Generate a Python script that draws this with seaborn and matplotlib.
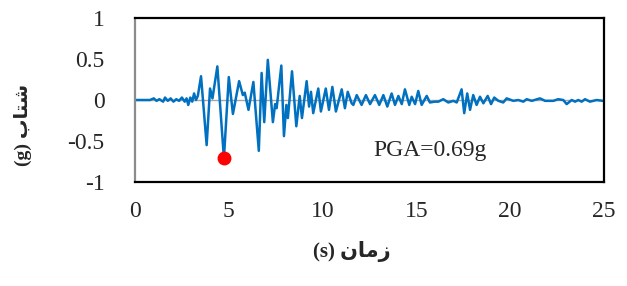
import matplotlib
matplotlib.use('Agg')
import matplotlib.pyplot as plt
import seaborn as sns
import pandas as pd

# peaks / troughs (time in s, acceleration in g)
time_s = [0.0, 0.8, 1.0, 1.15, 1.3, 1.5, 1.6, 1.75, 1.9, 2.05, 2.2, 2.35, 2.5, 2.65,
          2.75, 2.84, 2.95, 3.05, 3.15, 3.25, 3.35, 3.52, 3.82, 4.0, 4.13, 4.39,
          4.74, 5.0, 5.22, 5.55, 5.75, 5.85, 6.05, 6.31, 6.6, 6.75, 6.89, 7.08,
          7.35, 7.47, 7.55, 7.8, 7.94, 8.07, 8.15, 8.37, 8.6, 8.78, 8.9, 9.15,
          9.28, 9.38, 9.5, 9.77, 9.91, 10.17, 10.34, 10.52, 10.71, 11.02, 11.19,
          11.34, 11.55, 11.64, 11.82, 12.08, 12.31, 12.53, 12.79, 13.02, 13.24,
          13.45, 13.68, 13.86, 14.04, 14.22, 14.39, 14.62, 14.75, 14.93, 15.1,
          15.28, 15.55, 15.72, 15.99, 16.17, 16.43, 16.7, 16.97, 17.15, 17.41,
          17.55, 17.71, 17.86, 18.03, 18.21, 18.39, 18.57, 18.8, 18.98, 19.15,
          19.37, 19.63, 19.81, 20.17, 20.43, 20.7, 20.88, 21.15, 21.59, 21.86,
          22.3, 22.56, 22.83, 23.01, 23.28, 23.46, 23.63, 23.81, 23.99, 24.25,
          24.61, 24.93]
accel_g = [0.0, 0.0, 0.02, -0.01, 0.01, -0.02, 0.03, -0.01, 0.02, -0.02, 0.01, -0.01, 0.03, -0.02,
           0.02, -0.06, 0.03, -0.02, 0.08, 0.0, 0.05, 0.29, -0.55, 0.14, 0.02, 0.41,
           -0.71, 0.28, -0.17, 0.23, 0.06, 0.09, -0.12, 0.22, -0.62, 0.33, -0.27, 0.49,
           -0.27, -0.05, -0.1, 0.42, -0.44, -0.06, -0.22, 0.35, -0.32, 0.05, -0.22, 0.23,
           -0.08, 0.1, -0.16, 0.14, -0.14, 0.14, -0.12, 0.16, -0.14, 0.13, -0.1,
           0.1, -0.04, -0.06, 0.06, -0.06, 0.06, -0.05, 0.06, -0.06, 0.06,
           -0.08, 0.08, -0.06, 0.05, -0.05, 0.13, -0.06, 0.04, -0.05, 0.11,
           -0.06, 0.05, -0.03, -0.02, -0.02, 0.01, -0.03, -0.01, -0.03, 0.13,
           -0.16, 0.08, -0.12, 0.06, -0.06, 0.04, -0.04, 0.05, -0.05, 0.03,
           -0.01, -0.03, 0.02, -0.01, 0.0, -0.02, 0.01, -0.01, 0.02, -0.01,
           -0.01, 0.01, 0.0, -0.05, 0.0, -0.02, 0.0, -0.02, 0.01, -0.02,
           0.0, -0.01]
pga_label = 'PGA=0.69g'
x_ticks = [0, 5, 10, 15, 20, 25]
y_ticks = [-1, -0.5, 0, 0.5, 1]

df = pd.DataFrame({'t': time_s, 'a': accel_g})
pga_idx = df['a'].abs().idxmax()

sns.set_style('white')
plt.rcParams['font.family'] = ['Liberation Serif', 'DejaVu Sans']

fig = plt.figure(figsize=(6.27, 2.86), dpi=100)
ax = fig.add_axes([0.2153, 0.3636, 0.748, 0.5734])

ax.axhline(0, color='#a6a6a6', lw=1.0, zorder=1)
sns.lineplot(data=df, x='t', y='a', ax=ax, color='#0070c0', lw=1.8, zorder=2)
ax.plot(df.loc[pga_idx, 't'], df.loc[pga_idx, 'a'], 'o', color='#ff0000',
        ms=9, zorder=3)
ax.text(12.69, -0.61, pga_label, fontsize=17, ha='left', va='center')

ax.set_xlim(0, 25)
ax.set_ylim(-1, 1)
ax.set_xticks(x_ticks)
ax.set_xticklabels([str(v) for v in x_ticks])
ax.set_yticks(y_ticks)
ax.set_yticklabels(['-1', '-0.5', '0', '0.5', '1'])
ax.tick_params(axis='both', length=0, labelsize=17)
ax.tick_params(axis='x', pad=14)
ax.tick_params(axis='y', pad=22)
ax.set_xlabel('')
ax.set_ylabel('')

for side in ['top', 'right', 'bottom']:
    ax.spines[side].set_color('black')
    ax.spines[side].set_linewidth(1.6)
ax.spines['left'].set_color('#8c8c8c')
ax.spines['left'].set_linewidth(1.6)

# arabic text given in presentation forms, visual order
fig.text(352 / 627, 1 - 251 / 286, '(s) \uFEE5\uFE8E\uFEE3\uFEAF',
         fontsize=15, fontweight='bold', ha='center', va='center')
fig.text(23 / 627, 1 - 125 / 286, '(g) \uFE8F\uFE8E\uFE98\uFEB7',
         fontsize=14, fontweight='bold', ha='center', va='center', rotation=90)

fig.savefig('out.png', dpi=100)
